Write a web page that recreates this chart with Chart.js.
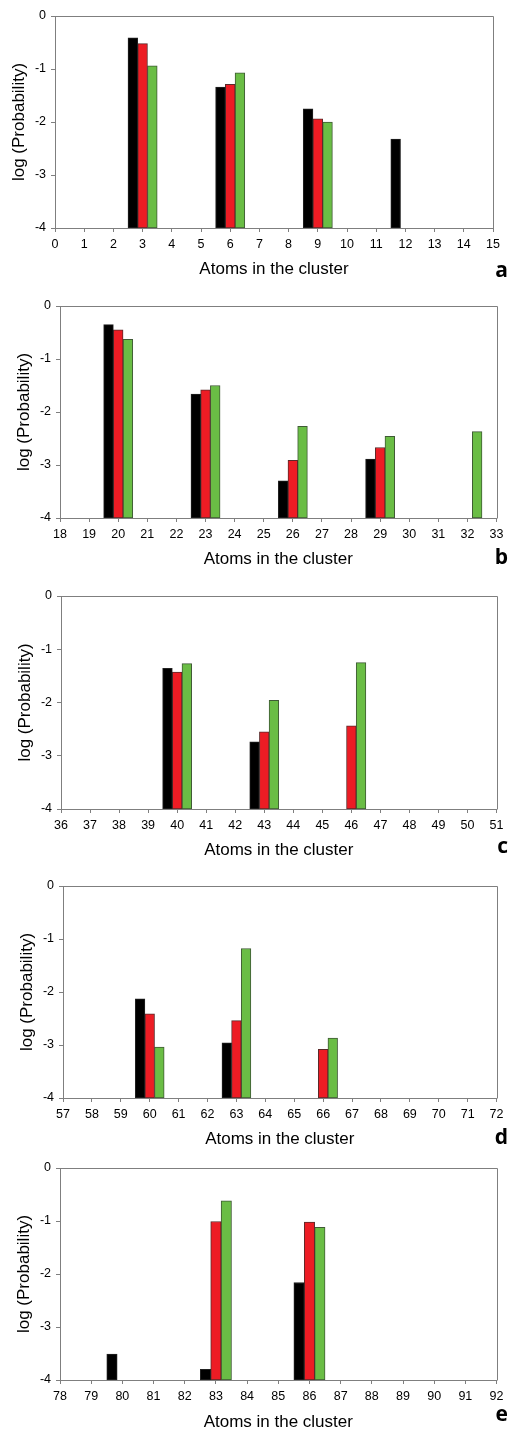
<!DOCTYPE html>
<html>
<head>
<meta charset="utf-8">
<script src="https://cdn.jsdelivr.net/npm/chart.js@4.4.0/dist/chart.umd.min.js"></script>
<style>
html,body{margin:0;padding:0;background:#fff;width:509px;height:1429px;overflow:hidden;position:relative;}
canvas{position:absolute;left:0;display:block;}
.letter{position:absolute;right:1px;font-family:"Open Sans","Liberation Sans",Arial,sans-serif;font-weight:700;font-size:21px;line-height:20px;color:#000;}
</style>
</head>
<body>
<script>
// ---------- DATA ----------
// x tick labels (categories) for each panel
const aTicks = ['0','1','2','3','4','5','6','7','8','9','10','11','12','13','14','15'];
const bTicks = ['18','19','20','21','22','23','24','25','26','27','28','29','30','31','32','33'];
const cTicks = ['36','37','38','39','40','41','42','43','44','45','46','47','48','49','50','51'];
const dTicks = ['57','58','59','60','61','62','63','64','65','66','67','68','69','70','71','72'];
const eTicks = ['78','79','80','81','82','83','84','85','86','87','88','89','90','91','92'];

// cluster sizes that carry bars, and log(Probability) per series (null = no bar)
const aSizes = [3, 6, 9, 12];
const aBlack = [-0.41, -1.34, -1.75, -2.32];
const aRed   = [-0.52, -1.29, -1.94, null];
const aGreen = [-0.94, -1.07, -2.00, null];

const bSizes = [20, 23, 26, 29, 32];
const bBlack = [-0.35, -1.66, -3.30, -2.89, null];
const bRed   = [-0.45, -1.58, -2.91, -2.67, null];
const bGreen = [-0.63, -1.50, -2.27, -2.46, -2.37];

const cSizes = [40, 43, 46];
const cBlack = [-1.36, -2.74, null];
const cRed   = [-1.43, -2.55, -2.44];
const cGreen = [-1.27, -1.96, -1.25];

const dSizes = [60, 63, 66];
const dBlack = [-2.13, -2.96, null];
const dRed   = [-2.41, -2.54, -3.08];
const dGreen = [-3.04, -1.18, -2.87];

const eSizes = [80, 83, 86];
const eBlack = [-3.51, -3.80, -2.16];
const eRed   = [null, -1.01, -1.02];
const eGreen = [null, -0.62, -1.12];

const yTicks = [0, -1, -2, -3, -4];
const panelLetters = ['a', 'b', 'c', 'd', 'e'];
const xTitle = 'Atoms in the cluster';
const yTitle = 'log (Probability)';

// ---------- LAYOUT / STYLE ----------
const layouts = [
  {plotLeft:55, plotRight:493, plotTop:16,   plotBottom:228,  titleY:269,  letterBase:276},
  {plotLeft:60, plotRight:498, plotTop:306,  plotBottom:518,  titleY:559,  letterBase:563},
  {plotLeft:61, plotRight:499, plotTop:596,  plotBottom:809,  titleY:850,  letterBase:852},
  {plotLeft:63, plotRight:500, plotTop:886,  plotBottom:1098, titleY:1139, letterBase:1143},
  {plotLeft:60, plotRight:498, plotTop:1168, plotBottom:1380, titleY:1422, letterBase:1420}
];
const panels = [
  {ticks:aTicks, sizes:aSizes, series:[aBlack, aRed, aGreen]},
  {ticks:bTicks, sizes:bSizes, series:[bBlack, bRed, bGreen]},
  {ticks:cTicks, sizes:cSizes, series:[cBlack, cRed, cGreen]},
  {ticks:dTicks, sizes:dSizes, series:[dBlack, dRed, dGreen]},
  {ticks:eTicks, sizes:eSizes, series:[eBlack, eRed, eGreen]}
];
const fills = ['#000000', '#ed1c24', '#6abd45'];
const edges = ['#222222', '#5a2a2a', '#3f5a35'];
const axisGray = '#7f7f7f';
const FONT = '"Liberation Sans", Arial, sans-serif';
const Y_W = 50, PAD_T = 16;

const framePlugin = {
  id: 'frame',
  afterDraw(chart) {
    const {ctx, chartArea: a} = chart;
    ctx.save();
    ctx.strokeStyle = axisGray;
    ctx.lineWidth = 1;
    ctx.beginPath();
    ctx.moveTo(Math.round(a.left) + 0.5, Math.round(a.top) + 0.5);
    ctx.lineTo(Math.round(a.right) + 0.5, Math.round(a.top) + 0.5);
    ctx.lineTo(Math.round(a.right) + 0.5, Math.round(a.bottom) + 0.5);
    ctx.stroke();
    ctx.restore();
  }
};

function alignSeries(ticks, sizes, values) {
  return ticks.map(t => {
    const i = sizes.indexOf(Number(t));
    if (i < 0 || values[i] === null) return null;
    return [-4, values[i]];
  });
}

panels.forEach((p, k) => {
  const L = layouts[k];
  const canvasTop = L.plotTop - PAD_T;
  const H = L.titleY - L.plotTop + 32;
  const xH = H - PAD_T - (L.plotBottom - L.plotTop);
  const cv = document.createElement('canvas');
  cv.width = 509; cv.height = H;
  cv.style.top = canvasTop + 'px';
  cv.style.width = '509px'; cv.style.height = H + 'px';
  document.body.appendChild(cv);

  const letter = document.createElement('div');
  letter.className = 'letter';
  letter.textContent = panelLetters[k];
  letter.style.top = (L.letterBase - 17) + 'px';
  document.body.appendChild(letter);

  new Chart(cv, {
    type: 'bar',
    data: {
      labels: p.ticks,
      datasets: p.series.map((s, j) => ({
        data: alignSeries(p.ticks, p.sizes, s),
        backgroundColor: fills[j],
        borderColor: edges[j],
        borderWidth: 1,
        borderSkipped: false,
        categoryPercentage: 1.0,
        barPercentage: 1.0
      }))
    },
    options: {
      responsive: false,
      animation: false,
      devicePixelRatio: 1,
      layout: {padding: {left: L.plotLeft - Y_W, right: 509 - L.plotRight, top: PAD_T, bottom: 0}},
      plugins: {legend: {display: false}, tooltip: {enabled: false}},
      scales: {
        x: {
          type: 'category',
          offset: false,
          grid: {display: true, drawOnChartArea: false, drawTicks: true, tickLength: 4, color: axisGray, offset: false},
          border: {display: true, color: axisGray, width: 1},
          ticks: {color: '#000', font: {family: FONT, size: 12.5}, padding: 5.5, maxRotation: 0, minRotation: 0, autoSkip: false},
          title: {display: true, text: xTitle, color: '#000', font: {family: FONT, size: 17}, padding: {top: 0, bottom: 5.8}},
          afterFit(scale) { scale.height = xH; }
        },
        y: {
          type: 'linear',
          min: -4, max: 0,
          afterBuildTicks(scale) { scale.ticks = yTicks.map(v => ({value: v})); },
          grid: {display: true, drawOnChartArea: false, drawTicks: true, tickLength: 4, color: axisGray},
          border: {display: true, color: axisGray, width: 1},
          ticks: {color: '#000', font: {family: FONT, size: 12.5}, padding: 5},
          title: {display: true, text: yTitle, color: '#000', font: {family: FONT, size: 17}, padding: {top: 3.8, bottom: 0}},
          afterFit(scale) { scale.width = Y_W; }
        }
      }
    },
    plugins: [framePlugin]
  });
});
</script>
</body>
</html>
